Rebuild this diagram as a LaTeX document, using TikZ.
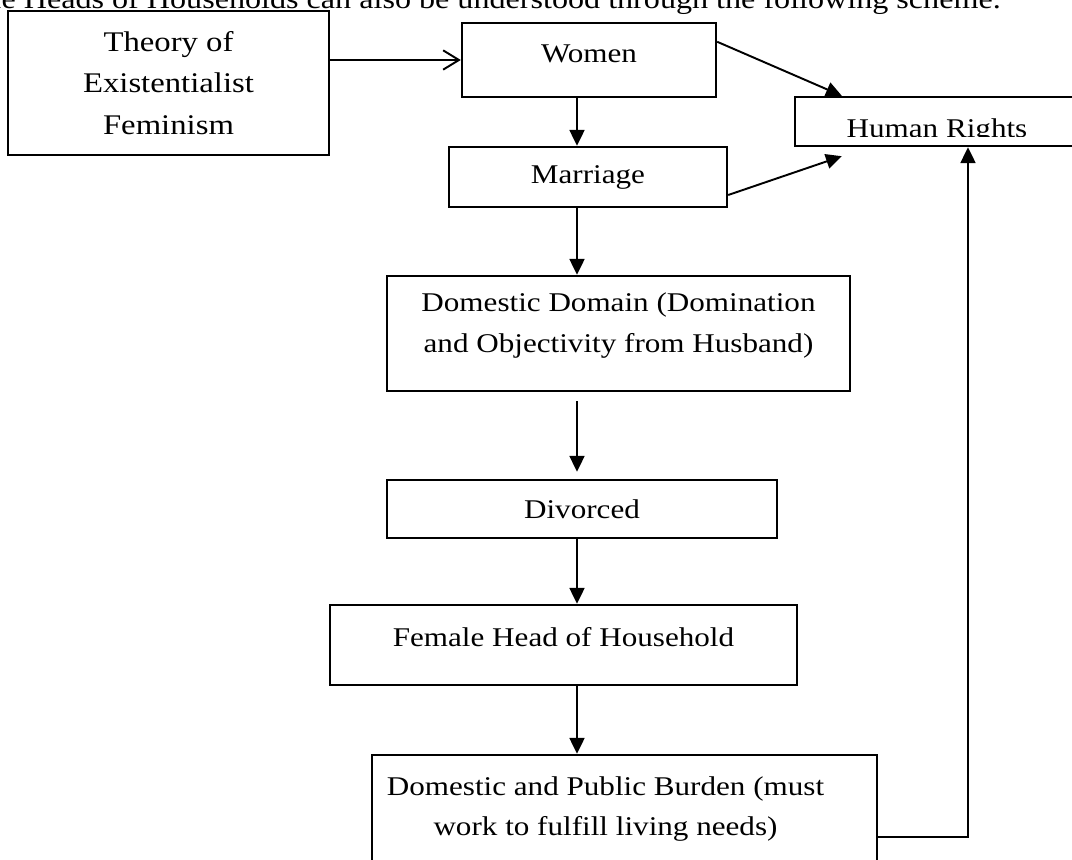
\documentclass[tikz,border=0pt]{standalone}
\usepackage{fontspec}
\setmainfont{Liberation Serif}[FakeStretch=1.15]
\usepackage{tikz}
\usetikzlibrary{arrows.meta,positioning,calc}

\begin{document}
\begin{tikzpicture}[x=0.02cm,y=-0.02cm,
  lbl/.style={font=\fontsize{15.4}{23}\selectfont},
  stage/.style={draw,line width=1.4pt,align=center,inner sep=0pt,lbl},
  flow/.style={-{Triangle[length=9pt,width=8.5pt]},line width=1.1pt},
]
  \useasboundingbox (0,0) rectangle (1072,859);

  \node[font=\fontsize{15.9}{23}\selectfont,anchor=base east] (intro) at (1007,8)
    {Female Heads of Households can also be understood through the following scheme.};

  \node[stage,minimum width=6.42cm,minimum height=2.88cm,font=\fontsize{16.2}{23.6}\selectfont] (theory) at (168.5,83)
    {Theory of\\Existentialist\\Feminism};
  \node[stage,minimum width=5.08cm,minimum height=1.48cm,text depth=6.8pt] (women) at (589,60) {Women};
  \node[stage,minimum width=5.56cm,minimum height=1.2cm]  (marriage) at (588,177)   {Marriage};
  \node[stage,minimum width=5.9cm,minimum height=0.98cm]  (rights)   at (942.5,121.5) {};
  \begin{scope}
    \clip (795,97) rectangle (1090,136);
    \node[lbl,anchor=base] (rightstxt) at (937,137) {Human Rights};
  \end{scope}
  \node[stage,minimum width=9.26cm,minimum height=2.3cm,text depth=12.4pt] (domain) at (618.5,333.5)
    {Domestic Domain (Domination\\and Objectivity from Husband)};
  \node[stage,minimum width=7.8cm,minimum height=1.16cm]  (divorced) at (582,509)   {Divorced};
  \node[stage,minimum width=9.34cm,minimum height=1.6cm,text depth=9.1pt] (femhead) at (563.5,645)
    {Female Head of Household};
  \node[stage,minimum width=10.1cm,minimum height=3cm] (burden) at (624.5,830) {};
  \node[lbl,align=center] (burdentxt) at (605.5,809)
    {Domestic and Public Burden (must\\work to fulfill living needs)};

  \coordinate (spine) at (577,0);
  \coordinate (turn) at (968,837);

  \draw[-{Straight Barb[length=9pt,width=11pt]},line width=1.1pt] (theory.east |- women.west) -- (women.west);
  \draw[flow] ($(women.north east)+(0,20)$) -- ($(rights.north west)+(48,0)$);
  \draw[flow] ($(marriage.east)+(0,18)$) -- ($(rights.south west)+(48,9)$);
  \draw[flow] (women.south -| spine) -- (marriage.north -| spine);
  \draw[flow] (marriage.south -| spine) -- (domain.north -| spine);
  \draw[flow,shorten <=5pt,shorten >=4pt] (domain.south -| spine) -- (divorced.north -| spine);
  \draw[flow] (divorced.south -| spine) -- (femhead.north -| spine);
  \draw[flow] (femhead.south -| spine) -- (burden.north -| spine);
  \draw[flow] (turn -| burden.east) -- (turn) -- (turn |- rights.south);
\end{tikzpicture}
\end{document}
